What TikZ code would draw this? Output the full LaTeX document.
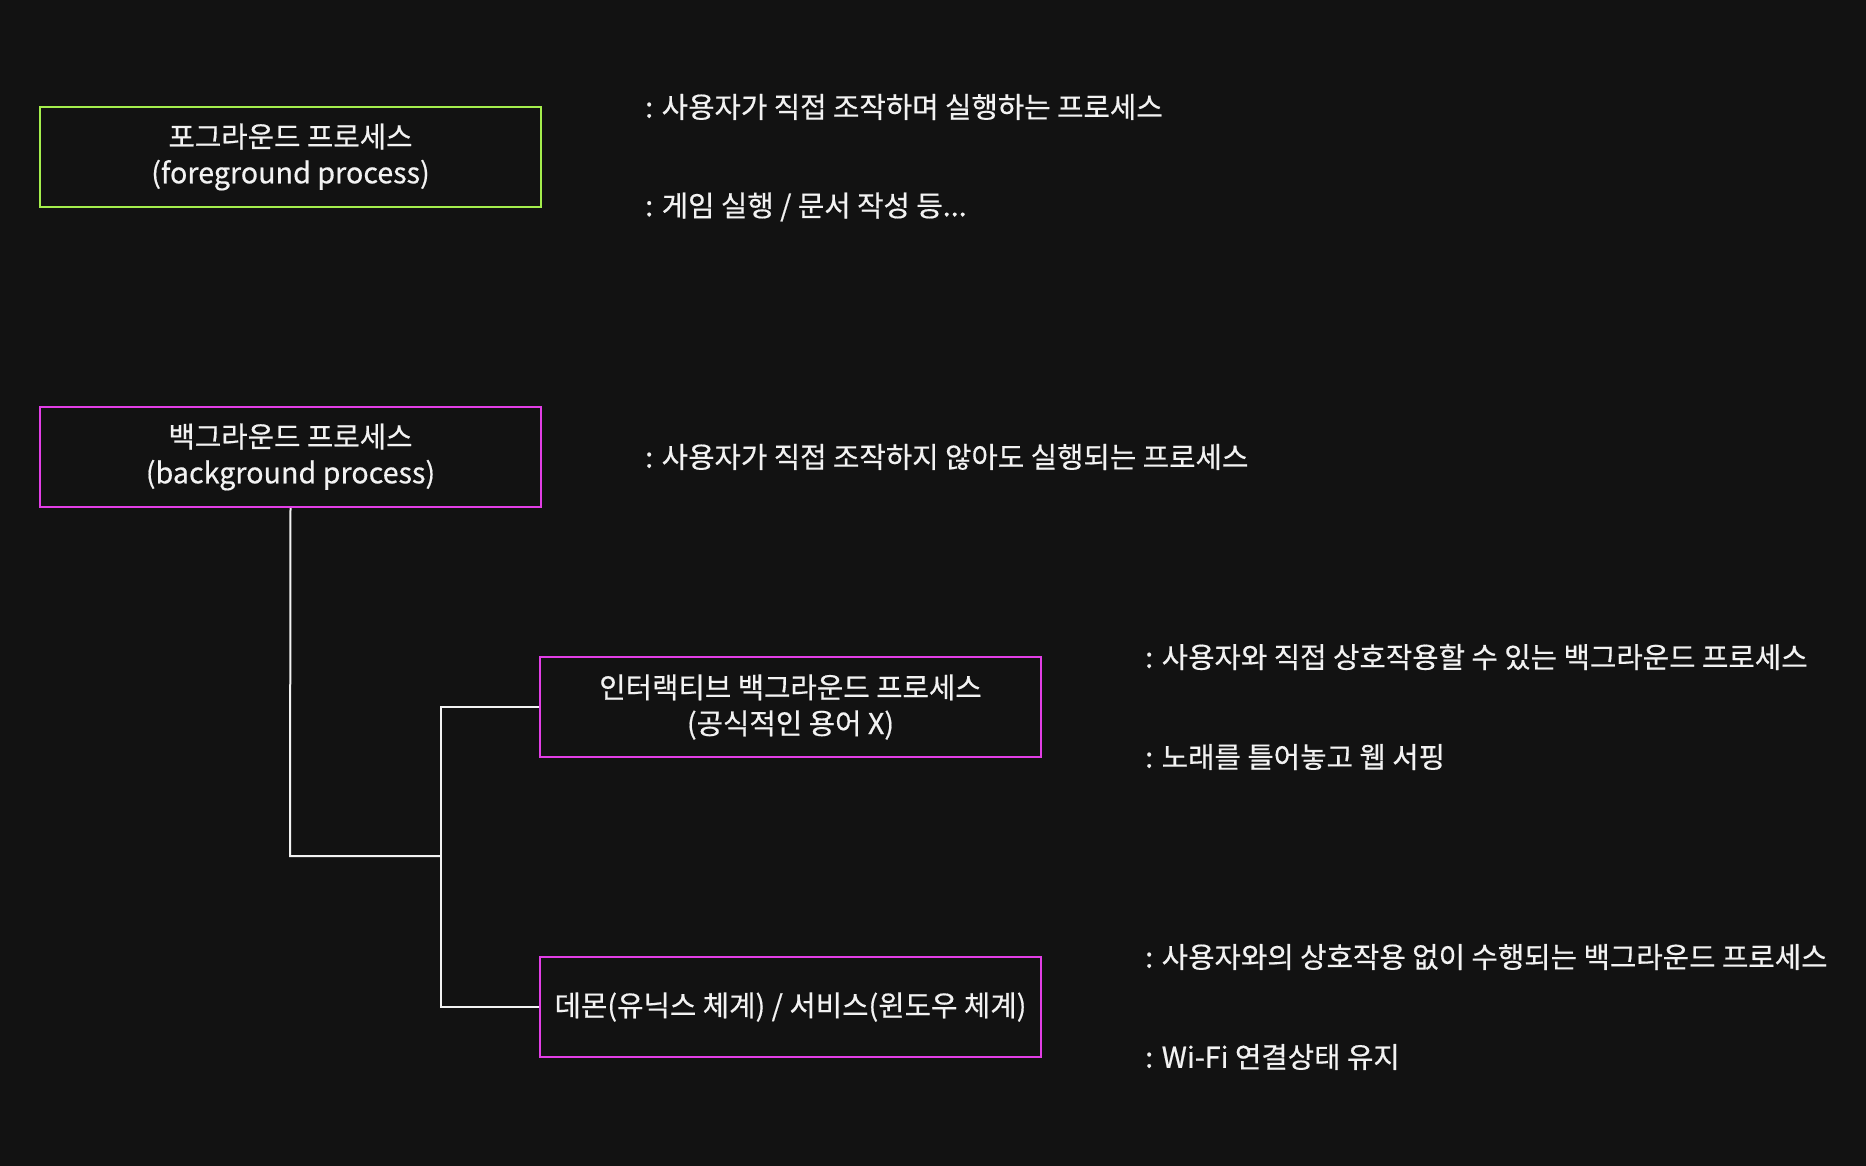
\documentclass[tikz,border=0pt]{standalone}
\usepackage{fontspec}
\setmainfont{Noto Sans CJK KR}[FakeBold=0.5]
\begin{document}
\begin{tikzpicture}[x=1pt,y=-1pt,
  every node/.style={text=txt, font=\fontsize{28.7}{36}\selectfont\addfontfeature{FakeBold=0.5}},
  pbox/.style={draw, line width=2pt, minimum width=501pt, minimum height=100pt, align=center, inner sep=0pt},
  fg/.style={pbox, draw=fgc},
  bg/.style={pbox, draw=bgc},
  desc/.style={anchor=west, inner sep=0pt},
  conn/.style={draw=txt, line width=2pt}]
\definecolor{bgfill}{HTML}{121212}
\definecolor{txt}{HTML}{F2F2F2}
\definecolor{fgc}{HTML}{A4EE4C}
\definecolor{bgc}{HTML}{E23EE6}
\fill[bgfill] (0,0) rectangle (1866,1166);
\useasboundingbox (0,0) rectangle (1866,1166);

\node[fg] (fgbox) at (290.5,157) {포그라운드 프로세스\\(foreground process)};
\node[bg] (bgbox) at (290.5,457) {백그라운드 프로세스\\(background process)};
\node[bg] (ibox) at (790.5,707) {인터랙티브 백그라운드 프로세스\\(공식적인 용어 X)};
\node[bg] (dbox) at (790.5,1007) {데몬(유닉스 체계) / 서비스(윈도우 체계)};

\node[desc] (d1) at (645,107) {: 사용자가 직접 조작하며 실행하는 프로세스};
\node[desc] (d2) at (645,207) {: 게임 실행 / 문서 작성 등...};
\node[desc] (d3) at (645,457) {: 사용자가 직접 조작하지 않아도 실행되는 프로세스};
\node[desc] (d4) at (1145,657) {: 사용자와 직접 상호작용할 수 있는 백그라운드 프로세스};
\node[desc] (d5) at (1145,757) {: 노래를 틀어놓고 웹 서핑};
\node[desc] (d6) at (1145,957) {: 사용자와의 상호작용 없이 수행되는 백그라운드 프로세스};
\node[desc] (d7) at (1145,1057) {: Wi-Fi 연결상태 유지};

\coordinate (j1) at (290,856);
\coordinate (j2) at (441,856);
\draw[conn] (bgbox.south) -- (j1) -- (j2);
\draw[conn] (ibox.west) -| (j2) |- (dbox.west);
\end{tikzpicture}
\end{document}
